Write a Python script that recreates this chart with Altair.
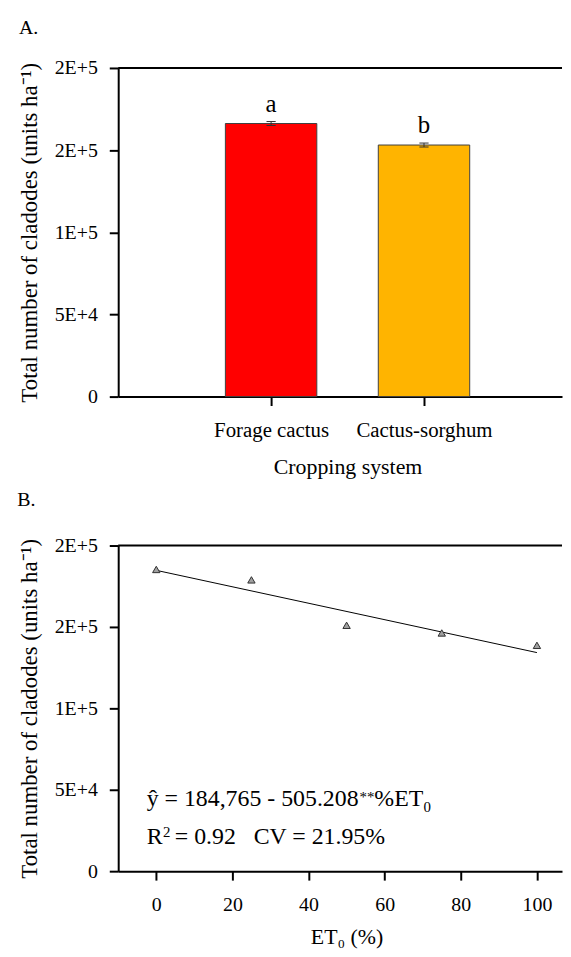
import json
import altair as alt
import pandas as pd

# ---------------- data ----------------
# Panel A
systems = ["Forage cactus", "Cactus-sorghum"]
cladodes = [166200, 153100]
cladodes_err = [1200, 1200]
letters = ["a", "b"]
bar_colors = ["#FF0000", "#FFB400"]

# Panel B
et0 = [0, 25, 50, 75, 100]
cladodes_et0 = [185300, 178900, 151000, 146300, 138700]
intercept = 184765
slope = -505.208

y_ticks = [0, 50000, 100000, 150000, 200000]
et0_ticks = [0, 20, 40, 60, 80, 100]

FONT = "Liberation Serif"
Y_TITLE = "Total number of cladodes (units ha\u207b\u00b9)"
YLAB = "datum.value == 0 ? '0' : upper(format(datum.value, '.0e'))"

W = 447
HA = 331
HB = 328
XA_MAX = W / 154.0
XB_MIN, XB_MAX = -10, -10 + W / 3.834

one = pd.DataFrame({"k": [0]})

# ---------------- panel A ----------------
dfA = pd.DataFrame({
    "system": systems,
    "pos": list(range(1, len(systems) + 1)),
    "value": cladodes,
    "err": cladodes_err,
    "letter": letters,
    "color": bar_colors,
})
dfA["left"] = dfA["pos"] - 0.299
dfA["right"] = dfA["pos"] + 0.299
dfA["lo"] = dfA["value"] - dfA["err"]
dfA["hi"] = dfA["value"] + dfA["err"]
dfA["capl"] = dfA["pos"] - 0.03
dfA["capr"] = dfA["pos"] + 0.03

xA_scale = alt.Scale(domain=[0, XA_MAX], nice=False, zero=False)
y_scale = alt.Scale(domain=[0, 200000], nice=False)
xlab_expr = json.dumps(systems) + "[datum.value - 1]"

yA_axis = alt.Axis(values=y_ticks, labelExpr=YLAB, title=Y_TITLE,
                   labelFont=FONT, titleFont=FONT,
                   labelPadding=12, titlePadding=13)
xA_axis = alt.Axis(values=list(range(1, len(systems) + 1)), labelExpr=xlab_expr,
                   title="Cropping system", labelFontSize=21, titleFontSize=22,
                   labelFont=FONT, titleFont=FONT,
                   labelPadding=14, titlePadding=16, titleX=231, labelFlush=False)

baseA = alt.Chart(dfA)
bars = baseA.mark_bar(stroke="#404040", strokeWidth=1).encode(
    x=alt.X("left:Q", scale=xA_scale, axis=xA_axis),
    x2="right:Q",
    y=alt.Y("value:Q", scale=y_scale, axis=yA_axis),
    y2=alt.datum(0),
    color=alt.Color("color:N", scale=None, legend=None),
)
err = baseA.mark_rule(color="#303030", strokeWidth=1).encode(
    x="pos:Q", y="lo:Q", y2="hi:Q")
cap_hi = baseA.mark_rule(color="#303030", strokeWidth=1).encode(
    x="capl:Q", x2="capr:Q", y="hi:Q")
cap_lo = baseA.mark_rule(color="#303030", strokeWidth=1).encode(
    x="capl:Q", x2="capr:Q", y="lo:Q")
let = baseA.mark_text(fontSize=25, baseline="alphabetic", dy=-10, font=FONT).encode(
    x="pos:Q", y="hi:Q", text="letter:N")
topA = alt.Chart(one).mark_rule(color="black", strokeWidth=2).encode(
    x=alt.value(0), x2=alt.value(W), y=alt.value(0))
labA = alt.Chart(one).mark_text(text="A.", fontSize=20, align="left", font=FONT,
                                baseline="alphabetic").encode(
    x=alt.value(-100), y=alt.value(-34.7))

panelA = alt.layer(bars, err, cap_hi, cap_lo, let, topA, labA).properties(
    width=W, height=HA)

# ---------------- panel B ----------------
dfB = pd.DataFrame({"et0": et0, "value": cladodes_et0})
line_x = [0, 100]
dfL = pd.DataFrame({"et0": line_x, "fit": [intercept + slope * v for v in line_x]})

xB_scale = alt.Scale(domain=[XB_MIN, XB_MAX], nice=False, zero=False)
yB_axis = alt.Axis(values=y_ticks, labelExpr=YLAB, title=Y_TITLE,
                   labelFont=FONT, titleFont=FONT,
                   labelPadding=12, titlePadding=13)
xB_axis = alt.Axis(values=et0_ticks, title="ET\u2080 (%)", labelFontSize=20,
                   titleFontSize=22, labelFont=FONT, titleFont=FONT,
                   labelPadding=15, titlePadding=12,
                   titleX=230, labelFlush=False)

fit = alt.Chart(dfL).mark_line(color="black", strokeWidth=1).encode(
    x=alt.X("et0:Q", scale=xB_scale, axis=xB_axis),
    y=alt.Y("fit:Q", scale=y_scale, axis=yB_axis),
)
pts = alt.Chart(dfB).mark_point(shape="triangle-up", filled=True, fill="#a0a0a0",
                                stroke="#303030", strokeWidth=1, size=55,
                                opacity=1).encode(
    x="et0:Q", y="value:Q")
topB = alt.Chart(one).mark_rule(color="black", strokeWidth=2).encode(
    x=alt.value(0), x2=alt.value(W), y=alt.value(0))
labB = alt.Chart(one).mark_text(text="B.", fontSize=20, align="left", font=FONT,
                                baseline="alphabetic").encode(
    x=alt.value(-101.6), y=alt.value(-40.3))


def txt(s, x, y, size):
    return alt.Chart(one).mark_text(text=s, fontSize=size, align="left", font=FONT,
                                    baseline="alphabetic").encode(
        x=alt.value(x), y=alt.value(y))


eq = [
    txt("\u0177 = 184,765 - 505.208", 28.7, 262, 24),
    txt("**", 243, 258.4, 15),
    txt("%ET", 258, 262, 24),
    txt("0", 307.5, 268.7, 15),
    txt("R", 28.7, 300.4, 24),
    txt("2", 45.2, 293.8, 15),
    txt("= 0.92\u00a0\u00a0\u00a0CV = 21.95%", 57, 300.4, 24),
]

panelB = alt.layer(fit, pts, topB, labB, *eq).properties(width=W, height=HB)

chart = alt.vconcat(panelA, panelB, spacing=12).properties(
    padding={"left": 9, "top": 6, "right": 0, "bottom": 0}
).configure(font=FONT).configure_axis(
    domainColor="black", domainWidth=2, tickColor="black", tickWidth=2,
    tickSize=9, labelColor="black", titleColor="black", labelFont=FONT,
    titleFont=FONT, labelFontSize=20, titleFontSize=23,
    titleFontWeight="normal", grid=False,
).configure_view(stroke=None).configure_text(font=FONT, color="black")

chart.save("out.html", embed_options={"renderer": "svg", "actions": False})
